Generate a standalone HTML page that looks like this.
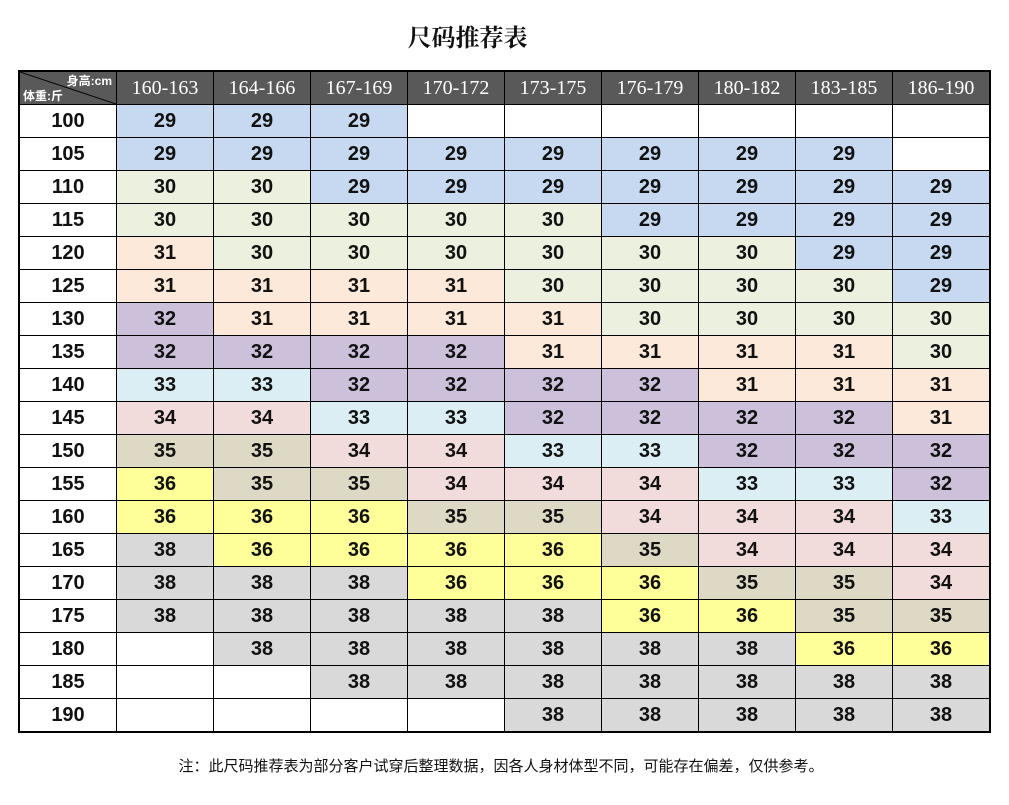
<!DOCTYPE html>
<html><head><meta charset="utf-8"><style>
body{margin:0;width:1009px;height:805px;background:#fff;position:relative;overflow:hidden;font-family:"Liberation Sans","Noto Sans CJK SC",sans-serif}
.title{position:absolute;left:0;width:935px;top:18px;text-align:center;font:bold 24px "Liberation Serif","Noto Serif CJK SC",serif;color:#111}
table{position:absolute;left:18px;top:70px;border-collapse:collapse;border:2px solid #000}
td{width:96px;height:32px;border:1px solid #000;text-align:center;font-weight:bold;font-size:20px;padding:0;color:#111}
tr.h td{background:#595959;color:#fff;font:20px "Liberation Serif","Noto Serif CJK SC",serif;height:32px}
td.c{position:relative;padding:0}
.b{background:#c6d9f0}.g{background:#ebf1de}.o{background:#fde9d9}.p{background:#ccc0da}.c3{background:#daeef3}.k{background:#f2dcdb}.t{background:#ddd9c4}.y{background:#ffff99}.s{background:#d9d9d9}
.note{position:absolute;left:0;width:1002px;text-align:center;top:755px;font-size:15px;color:#111}
</style></head><body>
<div class="title">尺码推荐表</div>
<table>
<tr class="h"><td class="c"><svg width="96" height="32" style="position:absolute;left:0;top:0"><line x1="0" y1="0" x2="96" y2="32" stroke="#000" stroke-width="1"/></svg><span style="position:absolute;right:4px;top:0;font:bold 12px 'Liberation Sans','Noto Sans CJK SC',sans-serif">身高:cm</span><span style="position:absolute;left:3px;bottom:0;font:bold 12px 'Liberation Sans','Noto Sans CJK SC',sans-serif">体重:斤</span></td><td>160-163</td><td>164-166</td><td>167-169</td><td>170-172</td><td>173-175</td><td>176-179</td><td>180-182</td><td>183-185</td><td>186-190</td></tr>
<tr><td>100</td><td class="b">29</td><td class="b">29</td><td class="b">29</td><td></td><td></td><td></td><td></td><td></td><td></td></tr>
<tr><td>105</td><td class="b">29</td><td class="b">29</td><td class="b">29</td><td class="b">29</td><td class="b">29</td><td class="b">29</td><td class="b">29</td><td class="b">29</td><td></td></tr>
<tr><td>110</td><td class="g">30</td><td class="g">30</td><td class="b">29</td><td class="b">29</td><td class="b">29</td><td class="b">29</td><td class="b">29</td><td class="b">29</td><td class="b">29</td></tr>
<tr><td>115</td><td class="g">30</td><td class="g">30</td><td class="g">30</td><td class="g">30</td><td class="g">30</td><td class="b">29</td><td class="b">29</td><td class="b">29</td><td class="b">29</td></tr>
<tr><td>120</td><td class="o">31</td><td class="g">30</td><td class="g">30</td><td class="g">30</td><td class="g">30</td><td class="g">30</td><td class="g">30</td><td class="b">29</td><td class="b">29</td></tr>
<tr><td>125</td><td class="o">31</td><td class="o">31</td><td class="o">31</td><td class="o">31</td><td class="g">30</td><td class="g">30</td><td class="g">30</td><td class="g">30</td><td class="b">29</td></tr>
<tr><td>130</td><td class="p">32</td><td class="o">31</td><td class="o">31</td><td class="o">31</td><td class="o">31</td><td class="g">30</td><td class="g">30</td><td class="g">30</td><td class="g">30</td></tr>
<tr><td>135</td><td class="p">32</td><td class="p">32</td><td class="p">32</td><td class="p">32</td><td class="o">31</td><td class="o">31</td><td class="o">31</td><td class="o">31</td><td class="g">30</td></tr>
<tr><td>140</td><td class="c3">33</td><td class="c3">33</td><td class="p">32</td><td class="p">32</td><td class="p">32</td><td class="p">32</td><td class="o">31</td><td class="o">31</td><td class="o">31</td></tr>
<tr><td>145</td><td class="k">34</td><td class="k">34</td><td class="c3">33</td><td class="c3">33</td><td class="p">32</td><td class="p">32</td><td class="p">32</td><td class="p">32</td><td class="o">31</td></tr>
<tr><td>150</td><td class="t">35</td><td class="t">35</td><td class="k">34</td><td class="k">34</td><td class="c3">33</td><td class="c3">33</td><td class="p">32</td><td class="p">32</td><td class="p">32</td></tr>
<tr><td>155</td><td class="y">36</td><td class="t">35</td><td class="t">35</td><td class="k">34</td><td class="k">34</td><td class="k">34</td><td class="c3">33</td><td class="c3">33</td><td class="p">32</td></tr>
<tr><td>160</td><td class="y">36</td><td class="y">36</td><td class="y">36</td><td class="t">35</td><td class="t">35</td><td class="k">34</td><td class="k">34</td><td class="k">34</td><td class="c3">33</td></tr>
<tr><td>165</td><td class="s">38</td><td class="y">36</td><td class="y">36</td><td class="y">36</td><td class="y">36</td><td class="t">35</td><td class="k">34</td><td class="k">34</td><td class="k">34</td></tr>
<tr><td>170</td><td class="s">38</td><td class="s">38</td><td class="s">38</td><td class="y">36</td><td class="y">36</td><td class="y">36</td><td class="t">35</td><td class="t">35</td><td class="k">34</td></tr>
<tr><td>175</td><td class="s">38</td><td class="s">38</td><td class="s">38</td><td class="s">38</td><td class="s">38</td><td class="y">36</td><td class="y">36</td><td class="t">35</td><td class="t">35</td></tr>
<tr><td>180</td><td></td><td class="s">38</td><td class="s">38</td><td class="s">38</td><td class="s">38</td><td class="s">38</td><td class="s">38</td><td class="y">36</td><td class="y">36</td></tr>
<tr><td>185</td><td></td><td></td><td class="s">38</td><td class="s">38</td><td class="s">38</td><td class="s">38</td><td class="s">38</td><td class="s">38</td><td class="s">38</td></tr>
<tr><td>190</td><td></td><td></td><td></td><td></td><td class="s">38</td><td class="s">38</td><td class="s">38</td><td class="s">38</td><td class="s">38</td></tr>
</table>
<div class="note">注：此尺码推荐表为部分客户试穿后整理数据，因各人身材体型不同，可能存在偏差，仅供参考。</div>
</body></html>
